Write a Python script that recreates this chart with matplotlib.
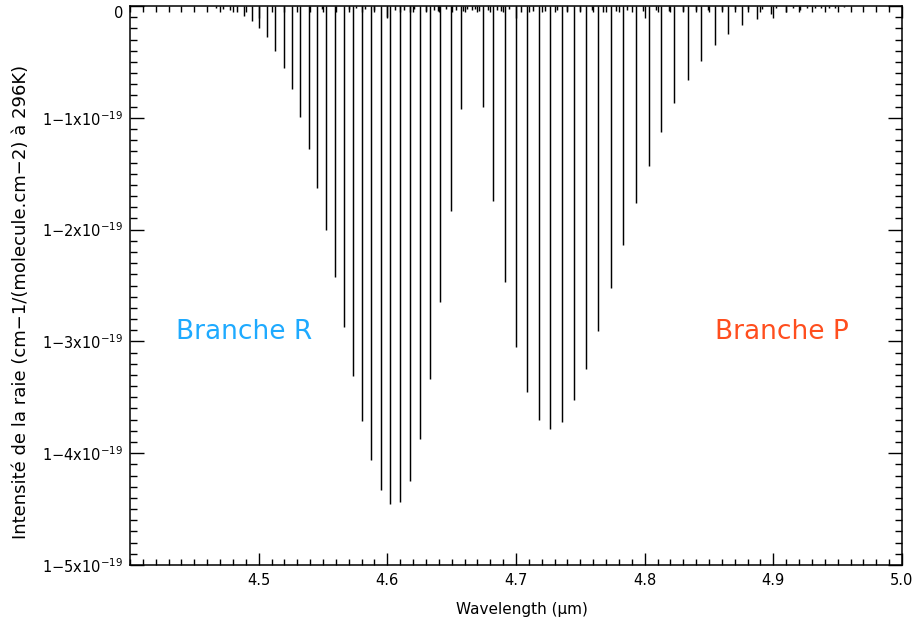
import matplotlib
matplotlib.use("Agg")
import matplotlib.pyplot as plt
from matplotlib.ticker import MultipleLocator, FixedLocator, FixedFormatter
import numpy as np

# ---- data (line intensities in units of 1e-19 cm-1/(molecule.cm-2)) ----
r_branch_wl = [4.6573, 4.6493, 4.6409, 4.6329, 4.6252, 4.6174, 4.6098, 4.6023,
               4.5948, 4.5875, 4.5803, 4.5731, 4.5661, 4.5591, 4.5521, 4.5453,
               4.5389, 4.5321, 4.5257, 4.5195, 4.5129, 4.5067, 4.5005, 4.4946,
               4.4888, 4.4832, 4.4777, 4.4723, 4.4668]
r_branch_int = [0.921, 1.831, 2.645, 3.339, 3.876, 4.249, 4.434, 4.454,
                4.329, 4.061, 3.712, 3.309, 2.874, 2.427, 2.004, 1.631,
                1.279, 0.990, 0.745, 0.555, 0.403, 0.280, 0.199, 0.134,
                0.087, 0.058, 0.040, 0.027, 0.018]

p_branch_wl = [4.6741, 4.6824, 4.6912, 4.6998, 4.7086, 4.7179, 4.7264, 4.7358,
               4.7451, 4.7544, 4.7640, 4.7736, 4.7834, 4.7930, 4.8031, 4.8129,
               4.8230, 4.8337, 4.8438, 4.8544, 4.8649, 4.8760, 4.8871, 4.8982,
               4.9096, 4.9207, 4.9320, 4.9436, 4.9552]
p_branch_int = [0.903, 1.741, 2.469, 3.047, 3.453, 3.703, 3.784, 3.718,
                3.524, 3.247, 2.904, 2.525, 2.138, 1.765, 1.431, 1.130,
                0.870, 0.662, 0.489, 0.351, 0.248, 0.172, 0.114, 0.075,
                0.050, 0.033, 0.022, 0.014, 0.009]

minor_wl = [4.549, 4.570, 4.576, 4.583, 4.590, 4.5995, 4.606, 4.613, 4.618,
            4.621, 4.630, 4.636, 4.6396, 4.6455, 4.653, 4.659, 4.662, 4.666,
            4.668, 4.671, 4.678, 4.685, 4.688, 4.6945, 4.704, 4.713, 4.7225,
            4.732, 4.740, 4.750, 4.759, 4.7675, 4.7776, 4.786, 4.799, 4.809,
            4.819, 4.830, 4.840, 4.849, 4.860, 4.870, 4.880, 4.891, 4.902,
            4.915, 4.926, 4.937, 4.948]
minor_int = [0.027, 0.027, 0.022, 0.027, 0.036, 0.096, 0.036, 0.036, 0.051,
             0.027, 0.045, 0.036, 0.045, 0.027, 0.036, 0.045, 0.027, 0.036,
             0.031, 0.045, 0.036, 0.040, 0.045, 0.027, 0.054, 0.045, 0.045,
             0.036, 0.045, 0.045, 0.036, 0.054, 0.045, 0.036, 0.045, 0.036,
             0.045, 0.045, 0.036, 0.036, 0.036, 0.027, 0.027, 0.027, 0.022,
             0.018, 0.018, 0.018, 0.018]

y_tick_values = [0, -1, -2, -3, -4, -5]
y_tick_labels = ["0", "1\u22121x10$^{-19}$", "1\u22122x10$^{-19}$",
                 "1\u22123x10$^{-19}$", "1\u22124x10$^{-19}$", "1\u22125x10$^{-19}$"]
x_tick_values = [4.5, 4.6, 4.7, 4.8, 4.9, 5.0]
x_tick_labels = ["4.5", "4.6", "4.7", "4.8", "4.9", "5.0"]

plt.rcParams['font.family'] = ['DejaVu Sans']
plt.rcParams['mathtext.fontset'] = 'dejavusans'

W, H = 916, 621
fig = plt.figure(figsize=(W / 100, H / 100), dpi=100)
ax = fig.add_axes([130 / W, 56 / H, 772 / W, 559 / H])

all_wl = np.array(r_branch_wl + p_branch_wl + minor_wl)
all_int = np.array(r_branch_int + p_branch_int + minor_int)
ax.vlines(all_wl, 0, -all_int, colors='black', linewidth=1.05)

ax.set_xlim(4.4, 5.0)
ax.set_ylim(-5, 0)

ax.xaxis.set_major_locator(FixedLocator(x_tick_values))
ax.xaxis.set_major_formatter(FixedFormatter(x_tick_labels))
ax.xaxis.set_minor_locator(MultipleLocator(0.01))
ax.yaxis.set_major_locator(FixedLocator(y_tick_values))
ax.yaxis.set_major_formatter(FixedFormatter(y_tick_labels))
ax.yaxis.set_minor_locator(MultipleLocator(0.1))

ax.tick_params(axis='x', which='major', direction='in', length=8.5, width=1.0,
               top=True, bottom=True, labelsize=10.5, pad=6)
ax.tick_params(axis='x', which='minor', direction='in', length=4.2, width=1.0,
               top=True, bottom=True)
ax.tick_params(axis='y', which='major', direction='in', length=10, width=1.0,
               left=True, right=True, labelsize=10.5, pad=5)
ax.tick_params(axis='y', which='minor', direction='in', length=5, width=1.0,
               left=True, right=True)
for s in ax.spines.values():
    s.set_linewidth(1.1)

ax.set_xlabel("Wavelength (\u00b5m)", fontsize=11)
ax.xaxis.set_label_coords(0.508, -0.066)
ax.set_ylabel("Intensit\u00e9 de la raie (cm\u22121/(molecule.cm\u22122) \u00e0 296K)",
              fontsize=13)
ax.yaxis.set_label_coords(-0.13, 0.47)

ax.text(4.4886, -2.916, "Branche R", color='#1EAAFF', fontsize=19,
        ha='center', va='center')
ax.text(4.9067, -2.916, "Branche P", color='#FF4E1E', fontsize=19,
        ha='center', va='center')

# the "0" label sits just below the top edge, as in the reference
fig.canvas.draw()
yticks = ax.yaxis.get_major_ticks()
for i, t in enumerate(yticks):
    t.label1.set_verticalalignment('top' if i == 0 else 'center_baseline')

fig.savefig("out.png", dpi=100)
